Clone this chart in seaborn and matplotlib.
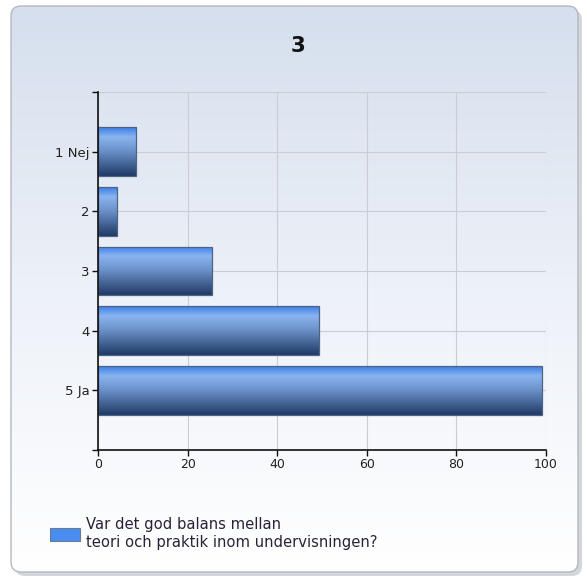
import numpy as np
import pandas as pd
import matplotlib
matplotlib.use("Agg")
import matplotlib.pyplot as plt
import seaborn as sns
from matplotlib.colors import LinearSegmentedColormap
from matplotlib.patches import FancyBboxPatch, Rectangle

# ------------------------------------------------------------
# Data
# ------------------------------------------------------------
categories = ["1 Nej", "2", "3", "4", "5 Ja"]
values = [8.5, 4.2, 25.4, 49.3, 99.1]
x_ticks = [0, 20, 40, 60, 80, 100]
title = "3"
legend_label = "Var det god balans mellan\nteori och praktik inom undervisningen?"

df = pd.DataFrame({"svar": categories, "andel": values})

sns.set_theme(style="white")
plt.rcParams["font.family"] = ["DejaVu Sans"]

W, H = 587, 580
fig = plt.figure(figsize=(W / 100, H / 100), dpi=100)

# ------------------------------------------------------------
# Background panel with gradient + rounded border
# ------------------------------------------------------------
bg = fig.add_axes([0, 0, 1, 1], zorder=-10)
bg.set_xlim(0, W)
bg.set_ylim(H, 0)
bg.axis("off")

shadow = FancyBboxPatch((15, 10), 567, 566, boxstyle="round,pad=0,rounding_size=10",
                        fc="#d4d6da", ec="none")
bg.add_patch(shadow)
panel = FancyBboxPatch((11, 6), 567, 566, boxstyle="round,pad=0,rounding_size=10",
                       fc="none", ec="#b4b8c0", lw=1.0, zorder=3)
bg.add_patch(panel)
grad = np.linspace(0, 1, 256).reshape(-1, 1)
bg_cmap = LinearSegmentedColormap.from_list("bg", ["#d5dfed", "#edf1f8", "#ffffff"])
im = bg.imshow(grad, cmap=bg_cmap, extent=[11, 578, 572, 6], aspect="auto", zorder=2)
im.set_clip_path(panel)
bg.set_xlim(0, W)
bg.set_ylim(H, 0)

# ------------------------------------------------------------
# Bars
# ------------------------------------------------------------
ax = fig.add_axes([98 / W, 1 - 450 / H, 448 / W, 358 / H])
ax.patch.set_alpha(0)

sns.barplot(data=df, x="andel", y="svar", orient="h", color="#4a8cf0",
            width=0.82, edgecolor="#4f6484", linewidth=0.9, ax=ax, zorder=3)

bar_cmap = LinearSegmentedColormap.from_list(
    "bar", [(0.0, "#3a7ee6"), (0.2, "#8ab4f0"), (0.5, "#6a8fc6"), (1.0, "#1f3a66")])
for bar in list(ax.patches):
    x0, y0 = bar.get_x(), bar.get_y()
    x1, y1 = x0 + bar.get_width(), y0 + bar.get_height()
    g = ax.imshow(grad, cmap=bar_cmap, extent=[x0, x1, y1, y0], aspect="auto", zorder=3.5)
    g.set_clip_path(bar)
    bar.set_facecolor("none")
    bar.set_zorder(4)

ax.set_xlim(0, 100)
ax.set_ylim(5, -1)
ax.set_xticks(x_ticks)
ax.set_yticks(range(-1, 6))
ax.set_yticklabels([""] + categories + [""])
ax.set_xlabel("")
ax.set_ylabel("")

ax.grid(True, color="#c9cdd4", lw=0.8, zorder=0)
for side in ["top", "right"]:
    ax.spines[side].set_visible(False)
for side in ["left", "bottom"]:
    ax.spines[side].set_color("#111111")
    ax.spines[side].set_linewidth(1.2)
    ax.spines[side].set_zorder(5)
ax.tick_params(axis="both", direction="out", length=4, width=1, color="#111111",
               labelcolor="#222222", pad=2, left=True, bottom=True)
ax.tick_params(axis="y", labelsize=9.5)
ax.tick_params(axis="x", labelsize=9)

fig.text(0.508, 1 - 46 / H, title, ha="center", va="center",
         fontsize=15.5, fontweight="bold", color="#111111")

# ------------------------------------------------------------
# Legend
# ------------------------------------------------------------
handle = Rectangle((0, 0), 1, 1, fc="#4a8cf0", ec="#6b7a90", lw=0.8)
fig.legend([handle], [legend_label], loc="upper left",
           bbox_to_anchor=(37 / W, 1 - 504 / H), frameon=False,
           handlelength=2.05, handleheight=1.05, handletextpad=0.35,
           prop={"size": 10.6}, labelspacing=0.3, labelcolor="#2a2238")

fig.savefig("out.png", dpi=100)
